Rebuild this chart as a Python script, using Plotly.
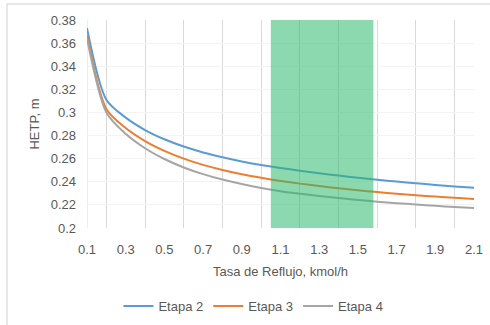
import plotly.graph_objects as go

reflux = [0.1, 0.2, 0.3, 0.4, 0.5, 0.6, 0.7, 0.8, 0.9, 1.0, 1.1,
          1.2, 1.3, 1.4, 1.5, 1.6, 1.7, 1.8, 1.9, 2.0, 2.1]
etapa2 = [0.373, 0.311, 0.2955, 0.2848, 0.2768, 0.2705, 0.2654, 0.2612, 0.2576, 0.2546, 0.2520,
          0.2496, 0.2474, 0.2454, 0.2435, 0.2418, 0.2402, 0.2387, 0.2373, 0.2360, 0.2348]
etapa3 = [0.367, 0.303, 0.2865, 0.2752, 0.2667, 0.2600, 0.2546, 0.2502, 0.2465, 0.2434, 0.2407,
          0.2384, 0.2363, 0.2344, 0.2327, 0.2311, 0.2297, 0.2284, 0.2272, 0.2261, 0.2251]
etapa4 = [0.364, 0.300, 0.2815, 0.2690, 0.2597, 0.2524, 0.2466, 0.2419, 0.2380, 0.2347, 0.2319,
          0.2297, 0.2277, 0.2259, 0.2243, 0.2228, 0.2215, 0.2203, 0.2192, 0.2182, 0.2173]
series_names = ["Etapa 2", "Etapa 3", "Etapa 4"]
series_colors = ["#5B9BD5", "#ED7D31", "#A5A5A5"]
x_ticks = [0.1, 0.3, 0.5, 0.7, 0.9, 1.1, 1.3, 1.5, 1.7, 1.9, 2.1]
x_tick_text = ["0.1", "0.3", "0.5", "0.7", "0.9", "1.1", "1.3", "1.5", "1.7", "1.9", "2.1"]
y_ticks = [0.2, 0.22, 0.24, 0.26, 0.28, 0.3, 0.32, 0.34, 0.36, 0.38]
y_tick_text = ["0.2", "0.22", "0.24", "0.26", "0.28", "0.3", "0.32", "0.34", "0.36", "0.38"]
band_start = 1.05
band_end = 1.58

FONT = "Liberation Sans"
fig = go.Figure()
for name, ys, col in zip(series_names, [etapa2, etapa3, etapa4], series_colors):
    fig.add_trace(go.Scatter(x=reflux, y=ys, name=name, mode="lines",
                             line=dict(color=col, width=2, shape="spline", smoothing=0.8)))

fig.add_shape(type="rect", xref="x", yref="y", x0=band_start, x1=band_end, y0=0.2, y1=0.38,
              fillcolor="rgb(46,184,110)", opacity=0.55, line_width=0, layer="above")
# chart border
fig.add_shape(type="rect", xref="paper", yref="paper", x0=-80/387, x1=1.2, y0=-1.5, y1=1 + 16/208,
              line=dict(color="#d0d0d0", width=1), fillcolor="rgba(0,0,0,0)", layer="above")
fig.add_shape(type="line", xref="x", yref="paper", x0=0.1, x1=0.1, y0=0, y1=1,
              line=dict(color="#d9d9d9", width=1), layer="below")

fig.update_layout(
    width=490, height=325,
    margin=dict(l=87, r=16, t=20, b=97, autoexpand=False),
    paper_bgcolor="white", plot_bgcolor="white",
    font=dict(family=FONT, size=13, color="#595959"),
    showlegend=True,
    legend=dict(orientation="h", x=0.43, xanchor="center", y=-0.375, yanchor="middle",
                font=dict(size=13, color="#595959"), itemwidth=30, tracegroupgap=0),
    xaxis=dict(range=[0.1, 2.1], tickmode="array", tickvals=x_ticks, ticktext=x_tick_text,
               showgrid=False, zeroline=False, showline=False, ticks="", automargin=False,
               ticklabelstandoff=12, tickfont=dict(size=13),
               minor=dict(dtick=0.2, tick0=0, showgrid=True, gridcolor="#d9d9d9", gridwidth=1),
               title=dict(text="Tasa de Reflujo, kmol/h", standoff=10, font=dict(size=13))),
    yaxis=dict(range=[0.2, 0.38], tickmode="array", tickvals=y_ticks, ticktext=y_tick_text,
               showgrid=True, gridcolor="#f3f3f3", zeroline=False, showline=False, ticks="",
               automargin=False, ticklabelstandoff=10, tickfont=dict(size=13),
               title=dict(text="HETP, m", standoff=8, font=dict(size=13))),
)
fig.write_html("out.html", config={"displayModeBar": False},
               post_script="document.body.style.margin='0';document.body.style.overflow='hidden';")
